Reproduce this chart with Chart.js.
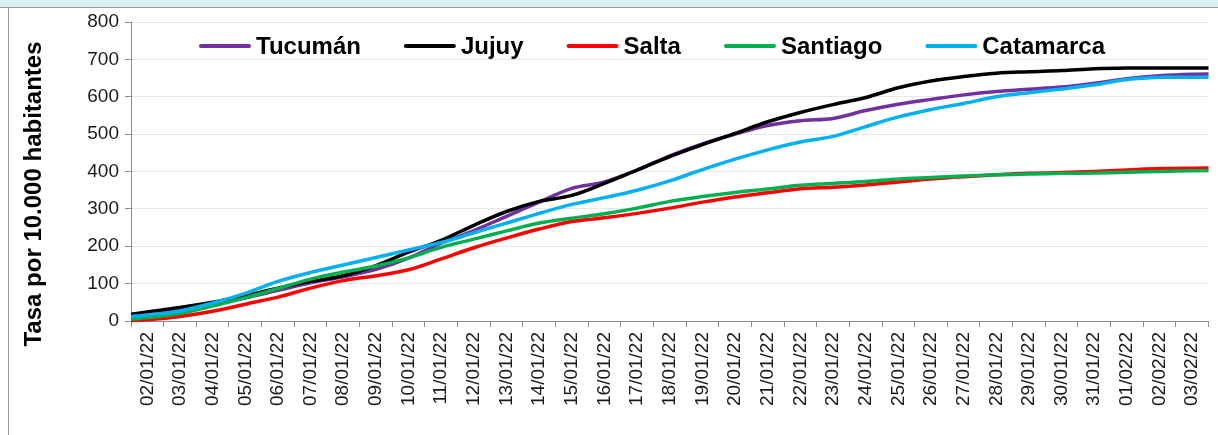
<!DOCTYPE html>
<html>
<head>
<meta charset="utf-8">
<script src="https://cdn.jsdelivr.net/npm/chart.js@4/dist/chart.umd.min.js"></script>
<style>
html, body { margin:0; padding:0; background:#ffffff; overflow:hidden; width:1218px; height:435px; }
#wrap { position:absolute; left:0; top:0; width:1220px; height:435px; }
</style>
</head>
<body>
<div id="wrap"><canvas id="c"></canvas></div>
<script>
// ---- data (01/01/22 and 04/02/22 lie just outside the visible axis; the lines run into the plot edges) ----
const dates = ['01/01/22','02/01/22','03/01/22','04/01/22','05/01/22','06/01/22','07/01/22','08/01/22','09/01/22',
  '10/01/22','11/01/22','12/01/22','13/01/22','14/01/22','15/01/22','16/01/22','17/01/22','18/01/22','19/01/22',
  '20/01/22','21/01/22','22/01/22','23/01/22','24/01/22','25/01/22','26/01/22','27/01/22','28/01/22','29/01/22',
  '30/01/22','31/01/22','01/02/22','02/02/22','03/02/22','04/02/22'];
const tickLabels = dates.slice(1, 34);
const seriesNames = ['Tucumán','Jujuy','Salta','Santiago','Catamarca'];
const tucuman   = [8,16,28,44,62,82,102,118,138,168,208,242,280,318,355,372,404,442,474,500,523,536,542,563,580,593,605,614,620,626,636,648,656,660,661];
const jujuy     = [12,24,36,50,68,88,106,121,148,184,216,256,293,320,336,368,404,440,472,502,533,558,579,598,624,642,654,663,667,670,675,677,677,677,677];
const salta     = [0,3,12,26,45,64,88,108,121,137,166,196,222,246,266,276,288,302,318,332,343,354,358,364,372,380,386,391,395,397,400,404,408,409,409];
const santiago  = [0,9,20,40,62,87,112,131,147,169,197,219,241,262,275,287,302,320,333,344,353,363,368,373,380,384,388,391,393,395,396,398,400,402,403];
const catamarca = [8,16,27,48,74,106,130,150,170,190,210,236,262,288,312,330,350,375,405,433,458,479,494,520,546,566,582,600,611,621,632,646,652,652,652];
const seriesValues = [tucuman, jujuy, salta, santiago, catamarca];
const seriesColors = ['#7030A0','#000000','#FF0000','#00B050','#00B0F0'];
const yMin = 0, yMax = 800, yStep = 100;
const yTitle = 'Tasa por 10.000 habitantes';

const FONT = "'Liberation Sans', Arial, sans-serif";
Chart.defaults.font.family = FONT;

const framePlugin = {
  id: 'frame',
  beforeDraw(chart) {
    const ctx = chart.ctx;
    ctx.save();
    ctx.fillStyle = '#ffffff';
    ctx.fillRect(0, 0, chart.width, chart.height);
    ctx.fillStyle = '#DAEEF3';
    ctx.fillRect(0, 0, chart.width, 7);
    ctx.strokeStyle = '#9a9a9a';
    ctx.lineWidth = 1;
    ctx.beginPath();
    ctx.moveTo(0, 7.5); ctx.lineTo(chart.width, 7.5);
    ctx.moveTo(8.5, 7.5); ctx.lineTo(8.5, chart.height);
    ctx.stroke();
    ctx.restore();
  }
};

const axisTitlePlugin = {
  id: 'axisTitle',
  afterDraw(chart) {
    const ctx = chart.ctx;
    ctx.save();
    ctx.translate(34, 194);
    ctx.rotate(-Math.PI / 2);
    ctx.font = 'bold 24px ' + FONT;
    ctx.fillStyle = '#000';
    ctx.textAlign = 'center';
    ctx.textBaseline = 'middle';
    ctx.fillText(yTitle, 0, 0);
    ctx.restore();
  }
};

const legendPlugin = {
  id: 'lineLegend',
  afterDatasetsDraw(chart) {
    const ctx = chart.ctx;
    ctx.save();
    ctx.font = 'bold 24px ' + FONT;
    ctx.textAlign = 'left';
    ctx.textBaseline = 'middle';
    let x = 199;
    const y = 46;
    chart.data.datasets.forEach(ds => {
      ctx.strokeStyle = ds.borderColor;
      ctx.lineWidth = 4;
      ctx.lineCap = 'round';
      ctx.beginPath();
      ctx.moveTo(x + 2, y); ctx.lineTo(x + 50, y);
      ctx.stroke();
      x += 57;
      ctx.fillStyle = '#000';
      ctx.fillText(ds.label, x, y + 1);
      x += ctx.measureText(ds.label).width + 43;
    });
    ctx.restore();
  }
};

const datasets = seriesNames.map((name, i) => ({
  label: name,
  data: seriesValues[i].map((v, k) => ({ x: k - 1, y: v })),
  borderColor: seriesColors[i],
  backgroundColor: seriesColors[i],
  borderWidth: 3.5,
  pointRadius: 0,
  tension: 0.35,
  fill: false,
  xAxisID: 'xd',
  yAxisID: 'y',
  order: seriesNames.length - 1 - i,
  clip: { left: 0, right: 0, top: 4, bottom: 4 }
}));

new Chart(document.getElementById('c'), {
  type: 'line',
  data: { labels: tickLabels, datasets },
  options: {
    responsive: true,
    maintainAspectRatio: false,
    animation: false,
    devicePixelRatio: 1,
    layout: { padding: { top: 22, left: 9, right: 0, bottom: 0 } },
    plugins: { legend: { display: false }, tooltip: { enabled: false }, title: { display: false } },
    scales: {
      x: {
        type: 'category',
        labels: tickLabels,
        offset: true,
        grid: { offset: true, drawOnChartArea: false, drawTicks: true, tickLength: 6, color: '#8c8c8c', tickColor: '#8c8c8c' },
        border: { color: '#8c8c8c', width: 1 },
        ticks: { autoSkip: false, minRotation: 90, maxRotation: 90, color: '#1a1a1a', font: { size: 19 }, padding: 5 },
        afterFit: s => { s.height = 114; }
      },
      xd: {
        type: 'linear',
        display: false,
        min: -0.5,
        max: tickLabels.length - 0.5
      },
      y: {
        min: yMin, max: yMax,
        ticks: { stepSize: yStep, color: '#1a1a1a', font: { size: 19 }, padding: 6 },
        grid: { color: '#e8e8e8', lineWidth: 1, tickLength: 6, tickColor: '#8c8c8c', drawTicks: true },
        border: { color: '#8c8c8c', width: 1 },
        afterFit: s => { s.width = 122; }
      }
    }
  },
  plugins: [framePlugin, axisTitlePlugin, legendPlugin]
});
</script>
</body>
</html>
